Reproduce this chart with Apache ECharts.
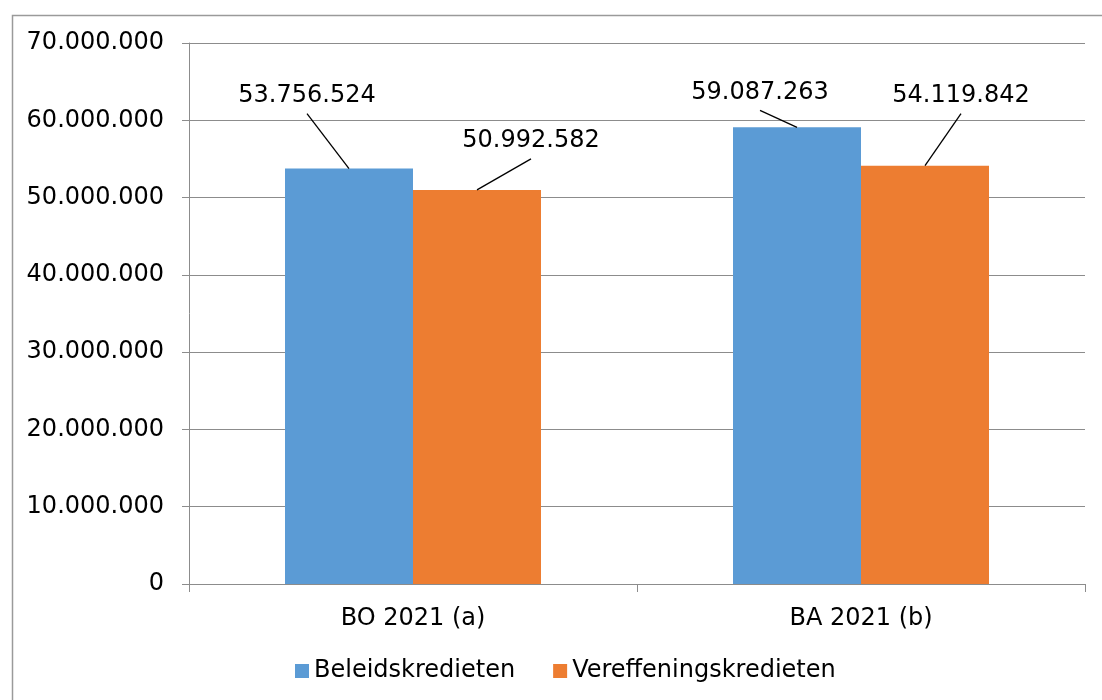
<!DOCTYPE html>
<html>
<head>
<meta charset="utf-8">
<script src="https://cdn.jsdelivr.net/npm/echarts@6/dist/echarts.min.js"></script>
<style>
  html, body { margin: 0; padding: 0; background: #fff; }
  #chart { width: 1102px; height: 700px; }
</style>
</head>
<body>
<div id="chart"></div>
<script>
const categories = ['BO 2021 (a)', 'BA 2021 (b)']
const seriesNames = ['Beleidskredieten', 'Vereffeningskredieten']
const beleidskredieten = [53756524, 59087263]
const vereffeningskredieten = [50992582, 54119842]
const yMax = 70000000
const yStep = 10000000

// label offsets (px) from the top centre of each bar
const beleidLabelOffsets = [[-42, -73], [-37, -35]]
const vereffLabelOffsets = [[54, -49], [36, -70]]

const FONT = '"DejaVu Sans", Verdana, sans-serif'
const FONT_SIZE = 24
const BAR_RATIO = 128 / 448

const fmt = v => String(Math.round(v)).replace(/\B(?=(\d{3})+(?!\d))/g, '.')

const chart = echarts.init(document.getElementById('chart'))

const labelSeries = (values, offsets, side) => ({
  type: 'custom',
  silent: true,
  clip: false,
  z: 5,
  data: values.map((v, i) => [i, v]),
  renderItem: (params, api) => {
    const pt = api.coord([api.value(0), api.value(1)])
    const bw = api.size([1, 0])[0] * BAR_RATIO
    const x = pt[0] + side * bw / 2
    const y = pt[1]
    const off = offsets[params.dataIndex]
    const lx = x + off[0]
    const ly = y + off[1]
    return {
      type: 'group',
      children: [
        {
          type: 'line',
          shape: { x1: x, y1: y, x2: lx, y2: ly + 18 },
          style: { stroke: '#000', lineWidth: 1.3 }
        },
        {
          type: 'text',
          x: lx,
          y: ly,
          style: {
            text: fmt(api.value(1)),
            fill: '#000',
            font: FONT_SIZE + 'px ' + FONT,
            align: 'center',
            verticalAlign: 'middle'
          }
        }
      ]
    }
  }
})

chart.setOption({
  animation: false,
  textStyle: { fontFamily: FONT },
  graphic: [{
    type: 'rect',
    left: 10,
    top: 13,
    shape: { width: 1200, height: 800 },
    style: { fill: 'none', stroke: '#9a9a9a', lineWidth: 1.5 },
    silent: true
  }],
  grid: { left: 189, right: 17, top: 43, bottom: 116 },
  legend: {
    data: seriesNames,
    left: 295,
    top: 659,
    padding: 0,
    itemWidth: 14,
    itemHeight: 14,
    itemGap: 38,
    icon: 'rect',
    textStyle: { fontSize: FONT_SIZE, color: '#000', fontFamily: FONT }
  },
  xAxis: {
    type: 'category',
    data: categories,
    axisLine: { lineStyle: { color: '#8c8c8c', width: 1 } },
    axisTick: { show: true, length: 8, lineStyle: { color: '#8c8c8c' } },
    axisLabel: { fontSize: FONT_SIZE, color: '#000', margin: 23, fontFamily: FONT }
  },
  yAxis: {
    type: 'value',
    min: 0,
    max: yMax,
    interval: yStep,
    axisLine: { show: true, lineStyle: { color: '#8c8c8c', width: 1 } },
    axisTick: { show: true, length: 7, lineStyle: { color: '#8c8c8c' } },
    splitLine: { lineStyle: { color: '#8c8c8c', width: 1 } },
    axisLabel: { fontSize: FONT_SIZE, color: '#000', margin: 25, fontFamily: FONT, formatter: v => fmt(v) }
  },
  series: [
    {
      name: seriesNames[0],
      type: 'bar',
      data: beleidskredieten,
      barWidth: (BAR_RATIO * 100) + '%',
      barGap: '0%',
      itemStyle: { color: '#5B9BD5' }
    },
    {
      name: seriesNames[1],
      type: 'bar',
      data: vereffeningskredieten,
      barWidth: (BAR_RATIO * 100) + '%',
      barGap: '0%',
      itemStyle: { color: '#ED7D31' }
    },
    labelSeries(beleidskredieten, beleidLabelOffsets, -1),
    labelSeries(vereffeningskredieten, vereffLabelOffsets, 1)
  ]
})
</script>
</body>
</html>
